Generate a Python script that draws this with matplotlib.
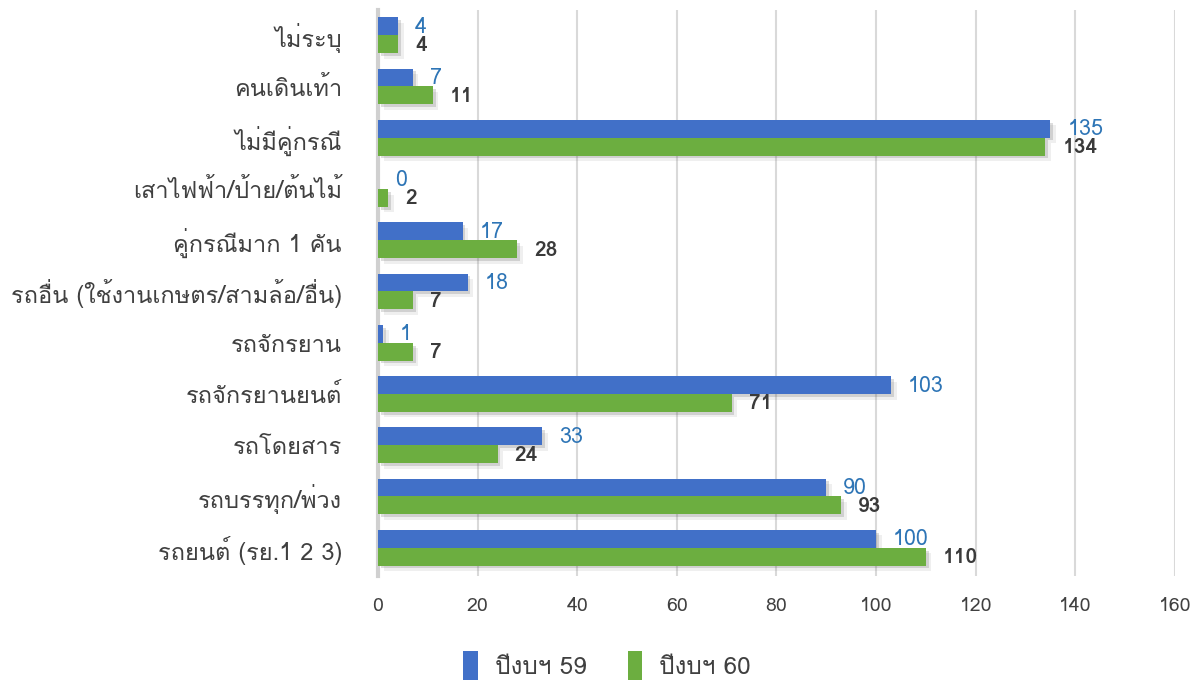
import matplotlib
matplotlib.use('Agg')
import matplotlib.pyplot as plt
import matplotlib.patheffects as pe
from matplotlib.patches import Patch
import numpy as np

categories = ['ไม่ระบุ', 'คนเดินเท้า', 'ไม่มีคู่กรณี', 'เสาไฟฟ้า/ป้าย/ต้นไม้', 'คู่กรณีมาก 1 คัน',
              'รถอื่น (ใช้งานเกษตร/สามล้อ/อื่น)', 'รถจักรยาน', 'รถจักรยานยนต์', 'รถโดยสาร',
              'รถบรรทุก/พ่วง', 'รถยนต์ (รย.1 2 3)']
fy59 = [4, 7, 135, 0, 17, 18, 1, 103, 33, 90, 100]
fy60 = [4, 11, 134, 2, 28, 7, 7, 71, 24, 93, 110]
series_names = ['ปีงบฯ 59', 'ปีงบฯ 60']
xticks = [0, 20, 40, 60, 80, 100, 120, 140, 160]
colors = ['#4170C8', '#6CAE40']

plt.rcParams['font.family'] = ['Loma', 'DejaVu Sans']

fig = plt.figure(figsize=(12.02, 6.84), dpi=100)
ax = fig.add_axes([0.3145, 0.158, 0.663, 0.828])

y = np.arange(len(categories))
h = 0.35
# soft drop shadow under each bar
shadow = [pe.SimplePatchShadow(offset=(4, -4), shadow_rgbFace='#666666', alpha=0.10),
          pe.SimplePatchShadow(offset=(2, -2), shadow_rgbFace='#555555', alpha=0.20),
          pe.Normal()]
b1 = ax.barh(y - h / 2, fy59, h, color=colors[0], zorder=3)
b2 = ax.barh(y + h / 2, fy60, h, color=colors[1], zorder=3)
for bar in list(b1) + list(b2):
    bar.set_path_effects(shadow)

for yi, v in zip(y, fy59):
    ax.annotate(str(v), (v, yi - h / 2), xytext=(17, -1), textcoords='offset pixels',
                ha='left', va='center', fontsize=15.5, color='#2E75B6', zorder=4)
for yi, v in zip(y, fy60):
    ax.annotate(str(v), (v, yi + h / 2), xytext=(17, -1), textcoords='offset pixels',
                ha='left', va='center', fontsize=15, color='#3a3a3a', fontweight='bold', zorder=4)

ax.set_xlim(0, 160)
ax.set_ylim(len(categories) - 0.45, -0.5)
ax.set_xticks(xticks)
ax.set_yticks(y)
ax.set_yticklabels(categories, fontsize=17, color='#404040')
ax.tick_params(axis='y', length=0, pad=26)
ax.tick_params(axis='x', length=0, pad=15, labelsize=14, labelcolor='#404040')
ax.grid(axis='x', color='#d9d9d9', linewidth=1.5, zorder=0)
for s in ['top', 'right', 'bottom']:
    ax.spines[s].set_visible(False)
ax.spines['left'].set_color('#d0d0d0')
ax.spines['left'].set_linewidth(3)

handles = [Patch(facecolor=c, label=n) for c, n in zip(colors, series_names)]
fig.legend(handles=handles, loc='center', bbox_to_anchor=(0.505, 0.027), ncol=2, frameon=False,
           fontsize=17.5, handlelength=0.6, handleheight=1.5, handletextpad=0.7, columnspacing=1.7,
           labelcolor='#404040')

fig.savefig('out.png', dpi=100)
